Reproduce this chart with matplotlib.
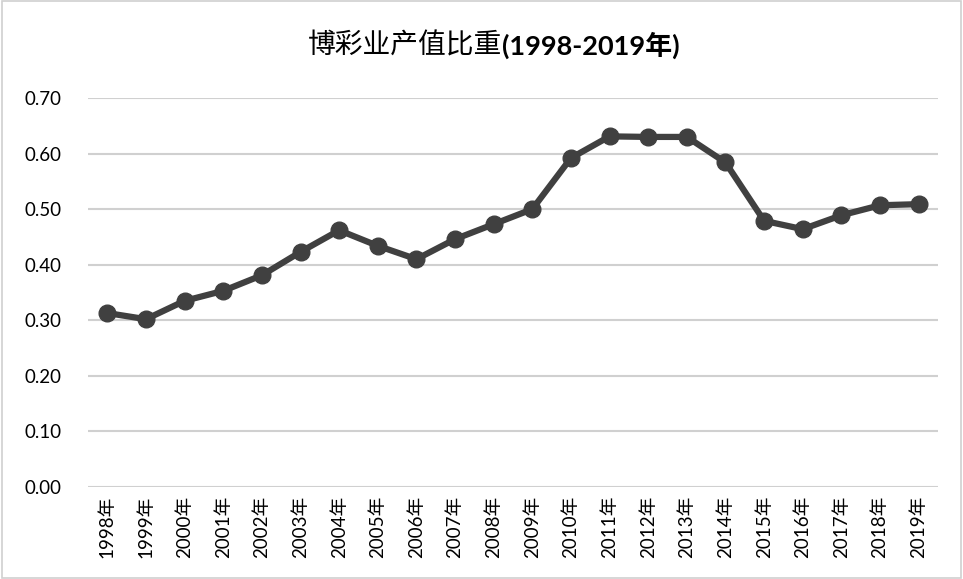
import matplotlib
matplotlib.use("Agg")
import matplotlib.pyplot as plt
from matplotlib.patches import Rectangle

plt.rcParams['font.family'] = ['Lato', 'Noto Sans CJK SC', 'DejaVu Sans']

years = ["1998年", "1999年", "2000年", "2001年", "2002年", "2003年", "2004年", "2005年",
         "2006年", "2007年", "2008年", "2009年", "2010年", "2011年", "2012年", "2013年",
         "2014年", "2015年", "2016年", "2017年", "2018年", "2019年"]
values = [0.313, 0.302, 0.335, 0.353, 0.381, 0.423, 0.462, 0.434, 0.410, 0.446, 0.473,
          0.500, 0.592, 0.631, 0.630, 0.630, 0.584, 0.479, 0.464, 0.489, 0.507, 0.509]
yticks = [0.0, 0.1, 0.2, 0.3, 0.4, 0.5, 0.6, 0.7]

fig = plt.figure(figsize=(9.63, 5.79), dpi=100)
fig.patches.append(Rectangle((0.002, 0.002), 0.996, 0.996, transform=fig.transFigure,
                             fill=False, edgecolor='#d0d0d0', linewidth=1.2))
ax = fig.add_axes([0.0914, 0.1589, 0.8826, 0.6718])

x = list(range(len(years)))
ax.plot(x, values, color='#404040', linewidth=4.5, marker='o', markersize=12,
        markerfacecolor='#404040', markeredgecolor='#404040', zorder=3, solid_capstyle='round')

ax.set_xlim(-0.5, len(years) - 0.5)
ax.set_ylim(0, 0.7)
ax.set_yticks(yticks)
ax.set_yticklabels([f"{v:.2f}" for v in yticks], fontsize=13.5, color='#000000')
ax.set_xticks(x)
ax.set_xticklabels(years, rotation=90, fontsize=13.5, color='#000000')
ax.yaxis.grid(True, color='#d0d0d0', linewidth=1.5)
ax.set_axisbelow(True)
for s in ax.spines.values():
    s.set_visible(False)
ax.tick_params(axis='both', length=0)
ax.tick_params(axis='y', pad=19)
ax.tick_params(axis='x', pad=6)

fig.text(0.521, 0.922, "博彩业产值比重", ha='right', va='center', fontsize=20,
         family=['Noto Sans CJK SC', 'DejaVu Sans'], color='#000000')
fig.text(0.521, 0.922, "(1998-2019年)", ha='left', va='center', fontsize=19.5,
         fontweight='bold', family=['Lato', 'Noto Sans CJK SC', 'DejaVu Sans'], color='#000000')

fig.savefig("out.png", dpi=100)
